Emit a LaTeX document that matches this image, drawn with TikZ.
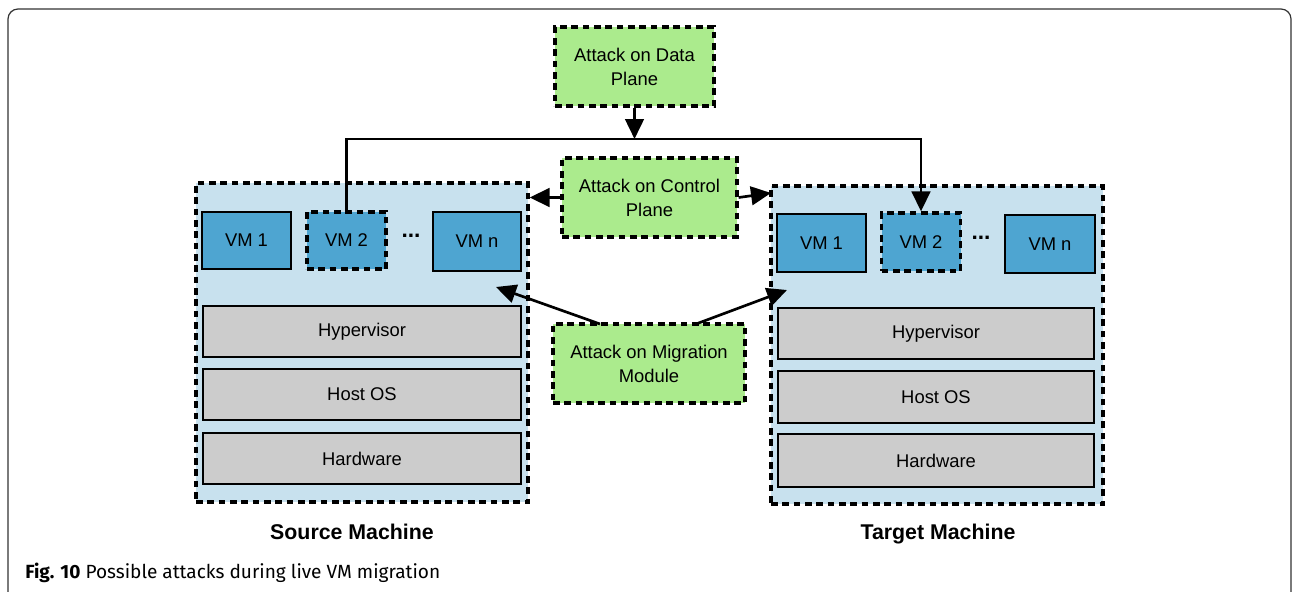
\documentclass[tikz,border=0pt]{standalone}
\usepackage{fontspec}
\setmainfont{Liberation Sans}
\newfontfamily\capfont{Fira Sans}
\usetikzlibrary{arrows.meta}
\definecolor{attackgreen}{HTML}{ABEB8D}
\definecolor{machineblue}{HTML}{C8E1EE}
\definecolor{vmblue}{HTML}{4EA5D1}
\definecolor{layergray}{HTML}{CCCCCC}
\definecolor{framegray}{HTML}{333333}
\begin{document}
\begin{tikzpicture}[x=0.75pt,y=-0.75pt,
  sz/.style 2 args={minimum width={#1*0.75pt},minimum height={#2*0.75pt}},
  box/.style={draw=black, line width=2pt, inner sep=0pt, align=center,
    font=\fontsize{13.8}{18}\selectfont, text=black},
  dashbox/.style={box, line width=2.45pt, dash pattern=on 5pt off 3.5pt},
  attack/.style={dashbox, fill=attackgreen},
  machine/.style={dashbox, fill=machineblue},
  vmsolid/.style={box, fill=vmblue},
  vmdash/.style={dashbox, fill=vmblue},
  layer/.style={box, fill=layergray},
  dots/.style={font=\fontsize{17}{18}\selectfont\bfseries, inner sep=0pt},
  title/.style={font=\fontsize{16}{18}\selectfont\bfseries, inner sep=0pt, anchor=base},
  arr/.style={line width=2pt, -{Triangle[length=15pt,width=14pt]}}
]
\useasboundingbox (0,0) rectangle (1292,592);
% frame
\draw[framegray, line width=0.9pt, rounded corners=7.5pt] (8,600) -- (8,9) -- (1291,9) -- (1291,600);

% machines
\node[machine, sz={332}{319}] (src) at (362,342.5) {};
\node[machine, sz={332}{318}] (tgt) at (937,345) {};

% source VMs
\node[vmsolid, sz={89}{57}] (s1) at (246.5,240.5) {VM 1};
\node[vmdash, sz={79}{57}] (s2) at (346.5,240.5) {VM 2};
\node[dots] (sd) at (411,236) {...};
\node[vmsolid, sz={88}{59}] (sn) at (477,241.5) {VM n};
\node[layer, sz={318}{51}] (shyp) at (362,331.5) {Hypervisor};
\node[layer, sz={318}{51}] (shost) at (362,394.5) {Host OS};
\node[layer, sz={318}{51}] (shw) at (362,458.5) {Hardware};

% target VMs
\node[vmsolid, sz={89}{58}] (t1) at (821.5,243) {VM 1};
\node[vmdash, sz={79}{58}] (t2) at (921,242) {VM 2};
\node[dots] (td) at (981,238) {...};
\node[vmsolid, sz={90}{58}] (tn) at (1050,244) {VM n};
\node[layer, sz={316}{51}] (thyp) at (936,333.5) {Hypervisor};
\node[layer, sz={316}{52}] (thost) at (936,397) {Host OS};
\node[layer, sz={316}{53}] (thw) at (936,460.5) {Hardware};

% attacks
\node[attack, sz={159}{79}] (data) at (634.5,66.5) {Attack on Data\\Plane};
\node[attack, sz={175}{79}] (ctrl) at (649.5,197.5) {Attack on Control\\Plane};
\node[attack, sz={192}{79}] (mig) at (649,363.5) {Attack on Migration\\Module};

% labels
\node[title] (srcl) at (352,539) {Source Machine};
\node[title] (tgtl) at (938,539) {Target Machine};
\node[anchor=base west, inner sep=0pt, font=\capfont\fontsize{14.3}{16}\selectfont] (cap) at (25,578)
  {\textbf{Fig. 10} Possible attacks during live VM migration};

% connectors
\coordinate (busL) at (346.5,139);
\coordinate (busD) at (634.5,139);
\draw[arr] (data.south) -- (busD);
\draw[arr] (s2.north) -- (busL) -| (t2.north);
\draw[arr] (ctrl.west) -- (src.east |- ctrl.west);
\coordinate (tgtin) at (771,193);
\draw[arr] (ctrl.east) -- (tgtin);
\coordinate (migL) at (600,324);
\coordinate (migR) at (696,324);
\coordinate (srcin) at (496,287);
\coordinate (tgtin2) at (787,290);
\draw[arr] (migL) -- (srcin);
\draw[arr] (migR) -- (tgtin2);
\end{tikzpicture}
\end{document}
